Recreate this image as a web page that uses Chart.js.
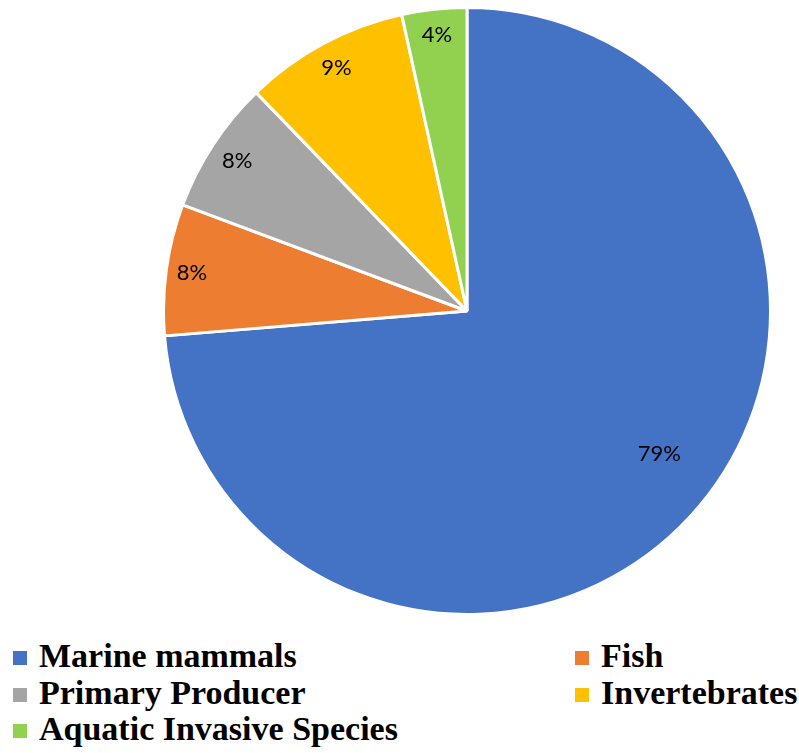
<!DOCTYPE html>
<html>
<head>
<meta charset="utf-8">
<script src="https://cdn.jsdelivr.net/npm/chart.js@4/dist/chart.umd.min.js"></script>
<style>
  html, body { margin: 0; padding: 0; background: #fff; }
  body { width: 799px; height: 753px; position: relative; overflow: hidden; }
  #pieBox { position: absolute; left: 162px; top: 6px; width: 610px; height: 610px; }
  #legend { position: absolute; left: 0; top: 637px; width: 799px;
            font-family: "Liberation Serif", "Times New Roman", serif; font-weight: bold;
            font-size: 34px; color: #000; }
  .item { position: absolute; height: 37px; line-height: 37px; white-space: nowrap; }
  .sw { position: absolute; top: 14px; width: 14px; height: 14px; }
  .txt { position: absolute; top: 0; }
</style>
</head>
<body>
<div id="pieBox"><canvas id="c"></canvas></div>
<div id="legend"></div>
<script>
// ---- data ----
const categories = ["Marine mammals", "Fish", "Primary Producer", "Invertebrates", "Aquatic Invasive Species"];
const values = [79, 7.5, 7.6, 9.4, 3.7];
const colors = ["#4472C4", "#ED7D31", "#A5A5A5", "#FFC000", "#92D050"];

// ---- data label plugin (labels from values) ----
const labelPlugin = {
  id: 'sliceLabels',
  afterDatasetsDraw(chart, args, opts) {
    const ctx = chart.ctx;
    const meta = chart.getDatasetMeta(0);
    ctx.save();
    ctx.font = opts.font;
    ctx.fillStyle = opts.color;
    ctx.textAlign = 'center';
    ctx.textBaseline = 'middle';
    meta.data.forEach((arc, i) => {
      const p = arc.getProps(['x', 'y', 'startAngle', 'endAngle', 'outerRadius'], true);
      const place = opts.placement[i] || {r: 0.9, da: 0};
      const mid = (p.startAngle + p.endAngle) / 2 + place.da * Math.PI / 180;
      const rr = p.outerRadius * place.r;
      const x = p.x + Math.cos(mid) * rr;
      const y = p.y + Math.sin(mid) * rr;
      ctx.fillText(Math.round(values[i]) + '%', x, y);
    });
    ctx.restore();
  }
};

new Chart(document.getElementById('c'), {
  type: 'pie',
  data: {
    labels: categories,
    datasets: [{
      data: values,
      backgroundColor: colors,
      borderColor: '#ffffff',
      borderWidth: 3,
      hoverOffset: 0
    }]
  },
  options: {
    responsive: true,
    maintainAspectRatio: false,
    animation: false,
    layout: { padding: 0 },
    plugins: {
      legend: { display: false },
      tooltip: { enabled: false },
      sliceLabels: {
        font: '22px Lato, Carlito, "Open Sans", sans-serif',
        color: '#000000',
        placement: [
          {r: 0.79, da: -6},
          {r: 0.915, da: 0},
          {r: 0.905, da: 0},
          {r: 0.91, da: 0},
          {r: 0.915, da: 0}
        ]
      }
    }
  },
  plugins: [labelPlugin]
});

// ---- legend (HTML, built from arrays) ----
const legend = document.getElementById('legend');
const legendPos = [
  {x: 13, row: 0}, {x: 575, row: 0},
  {x: 13, row: 1}, {x: 575, row: 1},
  {x: 13, row: 2}
];
categories.forEach((name, i) => {
  const it = document.createElement('div');
  it.className = 'item';
  it.style.left = legendPos[i].x + 'px';
  it.style.top = (legendPos[i].row * 36.5) + 'px';
  const sw = document.createElement('span');
  sw.className = 'sw';
  sw.style.left = '0px';
  sw.style.background = colors[i];
  const t = document.createElement('span');
  t.className = 'txt';
  t.style.left = '26px';
  t.textContent = name;
  it.appendChild(sw);
  it.appendChild(t);
  legend.appendChild(it);
});
</script>
</body>
</html>
